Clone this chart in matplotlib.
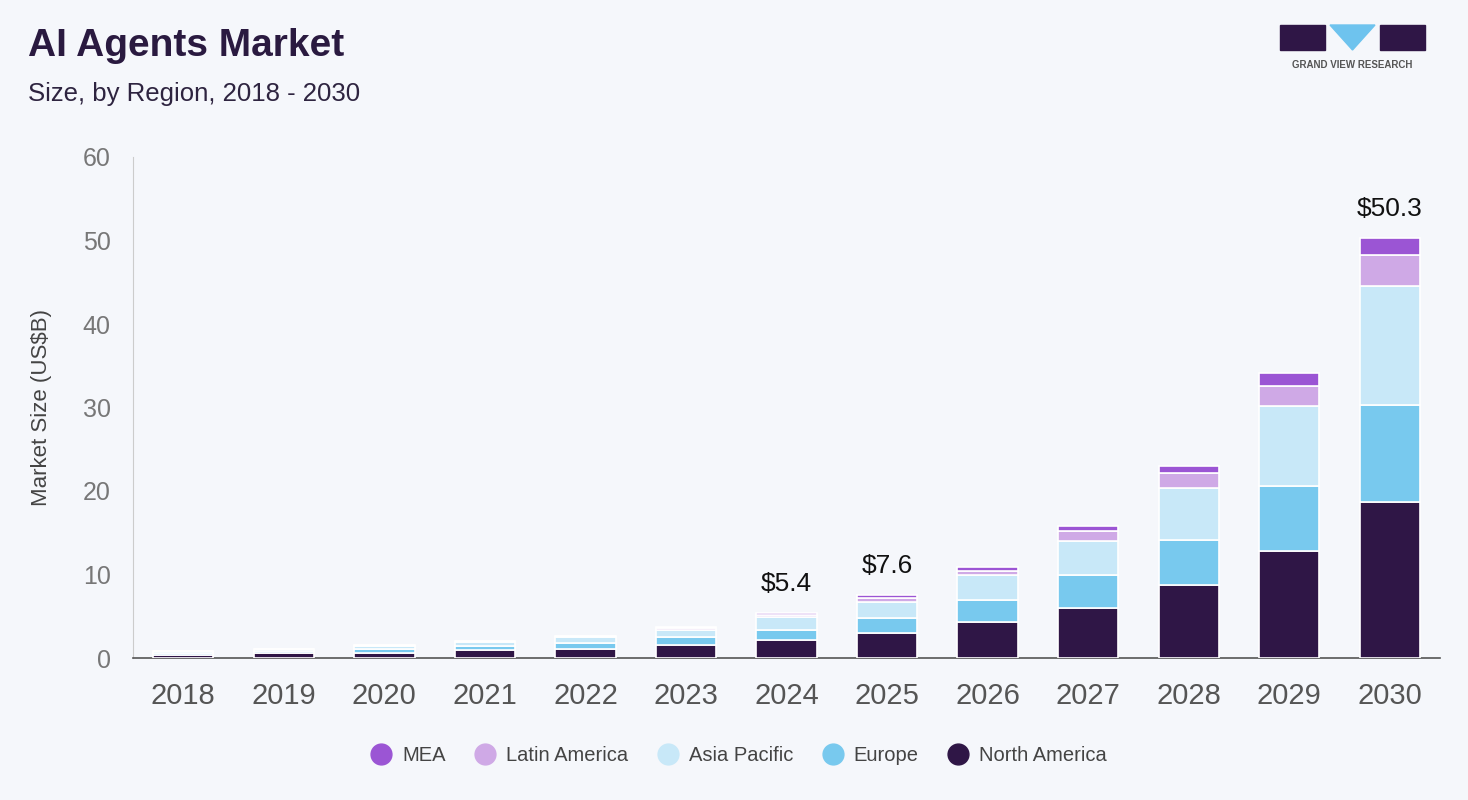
import matplotlib.pyplot as plt
import numpy as np
from matplotlib.patches import Rectangle, Polygon
from matplotlib.lines import Line2D

plt.rcParams['font.family'] = ['Liberation Sans', 'DejaVu Sans']

years = ['2018', '2019', '2020', '2021', '2022', '2023', '2024',
         '2025', '2026', '2027', '2028', '2029', '2030']
north_america = [0.40, 0.56, 0.56, 0.96, 1.05, 1.5, 2.2, 3.0, 4.3, 6.0, 8.8, 12.8, 18.7]
europe = [0.20, 0.25, 0.50, 0.50, 0.80, 1.0, 1.2, 1.8, 2.7, 3.9, 5.3, 7.8, 11.6]
asia_pacific = [0.25, 0.25, 0.40, 0.50, 0.65, 0.9, 1.5, 1.9, 2.9, 4.1, 6.3, 9.6, 14.2]
latin_america = [0.02, 0.03, 0.06, 0.08, 0.10, 0.2, 0.3, 0.5, 0.5, 1.2, 1.8, 2.4, 3.8]
mea = [0.01, 0.02, 0.04, 0.05, 0.07, 0.1, 0.2, 0.4, 0.5, 0.6, 0.8, 1.5, 2.0]
labels = {'2024': '$5.4', '2025': '$7.6', '2030': '$50.3'}

series = [
    ('North America', north_america, '#2f1646'),
    ('Europe', europe, '#78c9ee'),
    ('Asia Pacific', asia_pacific, '#c8e8f8'),
    ('Latin America', latin_america, '#cfa9e6'),
    ('MEA', mea, '#9b55d4'),
]

bg = '#f5f7fb'
fig = plt.figure(figsize=(14.68, 8), dpi=100, facecolor=bg)
ax = fig.add_axes([0.0906, 0.1775, 0.8904, 0.62625], facecolor=bg)

x = np.arange(len(years))
bottom = np.zeros(len(years))
for name, vals, col in series:
    ax.bar(x, vals, 0.6, bottom=bottom, color=col, edgecolor='white',
           linewidth=1.2, label=name, zorder=3)
    bottom += np.array(vals)

for i, yr in enumerate(years):
    if yr in labels:
        ax.text(x[i], bottom[i] + 2.0, labels[yr], ha='center', va='bottom',
                fontsize=19, color='#111111')

ax.set_xlim(-0.5, 12.5)
ax.set_ylim(0, 60)
ax.set_yticks(range(0, 61, 10))
ax.set_xticks(x)
ax.set_xticklabels(years)
ax.tick_params(axis='x', length=0, pad=17, labelsize=21, labelcolor='#555555')
ax.tick_params(axis='y', length=0, pad=16, labelsize=18, labelcolor='#777777')
for s in ['top', 'right']:
    ax.spines[s].set_visible(False)
ax.spines['left'].set_color('#cccccc')
ax.spines['bottom'].set_color('#555555')
ax.spines['bottom'].set_linewidth(1.2)
ax.set_ylabel('Market Size (US$B)', fontsize=16, color='#444444', labelpad=22)

# legend in reverse order
leg_handles = [Line2D([0], [0], marker='o', linestyle='none', markersize=15,
                      markerfacecolor=c, markeredgecolor=c, label=n)
               for n, _, c in reversed(series)]
fig.legend(handles=leg_handles, loc='center', bbox_to_anchor=(0.5, 0.056),
           ncol=5, frameon=False, fontsize=14.5, labelcolor='#444444',
           handletextpad=0.05, columnspacing=0.95)

fig.text(0.019, 0.943, 'AI Agents Market', fontsize=28, fontweight='bold',
         color='#2a1a40', va='center')
fig.text(0.019, 0.882, 'Size, by Region, 2018 - 2030', fontsize=18.5,
         color='#2e2440', va='center')

# logo
dark = '#2f1646'
fig.add_artist(Rectangle((1280 / 1468, 1 - 50 / 800), 45 / 1468, 25 / 800,
                         transform=fig.transFigure, color=dark))
fig.add_artist(Polygon([(1330 / 1468, 1 - 25 / 800), (1375 / 1468, 1 - 25 / 800),
                        (1352.5 / 1468, 1 - 50 / 800)], closed=True,
                       transform=fig.transFigure, color='#6ec3ee'))
fig.add_artist(Rectangle((1380 / 1468, 1 - 50 / 800), 45 / 1468, 25 / 800,
                         transform=fig.transFigure, color=dark))
fig.text(1352.5 / 1468, 1 - 65 / 800, 'GRAND VIEW RESEARCH', fontsize=7,
         fontweight='bold', color='#555555', ha='center', va='center')

fig.savefig('out.png', dpi=100, facecolor=bg)
